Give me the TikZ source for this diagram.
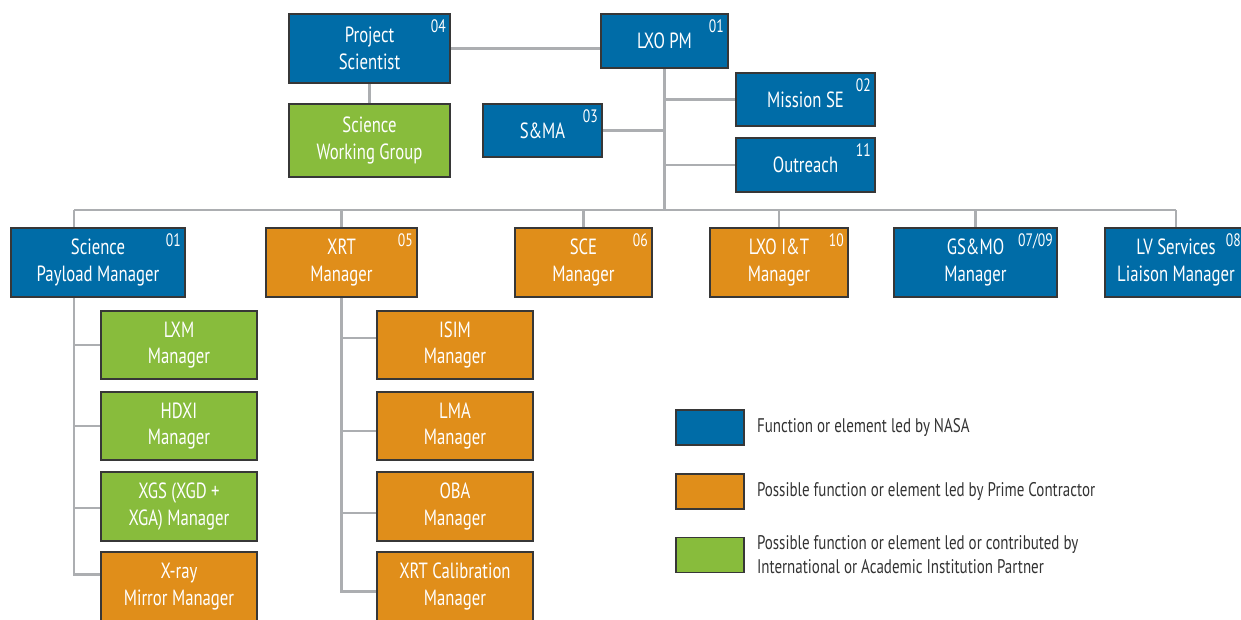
\documentclass[tikz,border=0pt]{standalone}
\usepackage{fontspec}
\setmainfont[FakeStretch=0.76]{PT Sans}
\usetikzlibrary{calc,backgrounds}
\definecolor{nasa}{RGB}{0,108,167}
\definecolor{prime}{RGB}{224,142,26}
\definecolor{partner}{RGB}{136,188,60}
\definecolor{connc}{RGB}{172,174,177}
\definecolor{edgec}{RGB}{55,55,55}
\definecolor{legtext}{RGB}{51,51,51}
\newcommand\obox[7]{%
  \node[orgbox, fill=#6, minimum width={(#4-#2)*0.75pt}, minimum height={(#5-#3)*0.75pt}] (#1) at ({(#2+#4)/2},{(#3+#5)/2}) {#7};}
\newcommand\numl[2]{%
  \node[numlab] (#1-num) at ([xshift=-3.5pt,yshift=-4.5pt]#1.north east) {#2};}
\tikzset{
  orgbox/.style={draw=edgec, line width=1.1pt, text=white, align=center, inner sep=0pt,
    font=\fontsize{16.5}{20}\selectfont},
  numlab/.style={anchor=north east, inner sep=0pt, text=white, font=\fontsize{13.5}{15}\selectfont},
  conn/.style={draw=connc, line width=2.2pt},
  legbox/.style={draw=edgec, line width=1.1pt, minimum width=51pt, minimum height=26.5pt, inner sep=0pt},
  legtxt/.style={anchor=west, text=legtext, align=left, inner sep=0pt, font=\fontsize{14.8}{18}\selectfont}
}
\begin{document}
\begin{tikzpicture}[x=0.75pt,y=-0.75pt]
\useasboundingbox (0,0) rectangle (1241,619);
\clip (0,0) rectangle (1241,619);
% top level
\obox{ps}{289}{14}{450}{83}{nasa}{Project\\Scientist}\numl{ps}{04}
\obox{swg}{289}{104}{450}{177}{partner}{Science\\Working Group}
\obox{pm}{601}{14}{728}{68}{nasa}{LXO PM}\numl{pm}{01}
\obox{mse}{736}{73}{875}{126}{nasa}{Mission SE}\numl{mse}{02}
\obox{sma}{483}{104}{602}{157}{nasa}{S\&MA}\numl{sma}{03}
\obox{outr}{736}{138}{875}{192}{nasa}{Outreach}\numl{outr}{11}
% second row
\obox{spm}{11}{228}{185}{297}{nasa}{Science\\Payload Manager}\numl{spm}{01}
\obox{xrt}{266}{228}{417}{297}{prime}{XRT\\Manager}\numl{xrt}{05}
\obox{sce}{515}{228}{652}{297}{prime}{SCE\\Manager}\numl{sce}{06}
\obox{lit}{710}{228}{848}{297}{prime}{LXO I\&T\\Manager}\numl{lit}{10}
\obox{gs}{894}{228}{1057}{297}{nasa}{GS\&MO\\Manager}\numl{gs}{07/09}
\obox{lvs}{1105}{228}{1247}{297}{nasa}{LV Services\\Liaison Manager}
\node[numlab] (lvs-num) at ([xshift=-5pt,yshift=-4.5pt]lvs.north east) {08};
% payload children
\obox{lxm}{101}{311}{257}{379}{partner}{LXM\\Manager}
\obox{hdxi}{101}{392}{257}{460}{partner}{HDXI\\Manager}
\obox{xgs}{101}{472}{257}{541}{partner}{XGS (XGD +\\XGA) Manager}
\obox{xmm}{101}{552}{257}{621}{prime}{X-ray\\Mirror Manager}
% XRT children
\obox{isim}{377}{311}{533}{379}{prime}{ISIM\\Manager}
\obox{lma}{377}{392}{533}{460}{prime}{LMA\\Manager}
\obox{oba}{377}{472}{533}{541}{prime}{OBA\\Manager}
\obox{xcal}{377}{552}{533}{621}{prime}{XRT Calibration\\Manager}
% legend
\node[legbox, fill=nasa] (leg1) at (710,427.5) {};
\node[legbox, fill=prime] (leg2) at (710,491.5) {};
\node[legbox, fill=partner] (leg3) at (710,555) {};
\node[legtxt] (leg1t) at ([xshift=9pt]leg1.east) {Function or element led by NASA};
\node[legtxt] (leg2t) at ([xshift=9pt]leg2.east) {Possible function or element led by Prime Contractor};
\node[legtxt] (leg3t) at ([xshift=9pt]leg3.east) {Possible function or element led or contributed by\\International or Academic Institution Partner};
% connectors
\begin{scope}[on background layer]
\coordinate (busL) at (74,210);
\path[conn] (ps.east) -- (ps.east -| pm.west);
\path[conn] (ps.south) -- (swg.north);
\path[conn] (pm.south) -- (pm.south |- busL);
\path[conn] (pm.south |- mse.west) -- (mse.west);
\path[conn] (sma.east) -- (sma.east -| pm.south);
\path[conn] (pm.south |- outr.west) -- (outr.west);
\path[conn] (busL) -- (lvs.north |- busL);
\path[conn] (busL) -- (spm.north -| busL);
\foreach \n in {xrt,sce,lit,gs,lvs} \path[conn] (\n.north |- busL) -- (\n.north);
\path[conn] (spm.south -| busL) |- (lxm.west);
\path[conn] (spm.south -| busL) |- (hdxi.west);
\path[conn] (spm.south -| busL) |- ($(xgs.west)+(0,1.5)$);
\path[conn] (spm.south -| busL) |- ($(xmm.west)+(0,-12)$);
\path[conn] (xrt.south) |- ($(isim.west)+(0,-7)$);
\path[conn] (xrt.south) |- ($(lma.west)+(0,5)$);
\path[conn] (xrt.south) |- ($(oba.west)+(0,6.5)$);
\path[conn] (xrt.south) |- ($(xcal.west)+(0,5)$);
\end{scope}
\end{tikzpicture}
\end{document}
